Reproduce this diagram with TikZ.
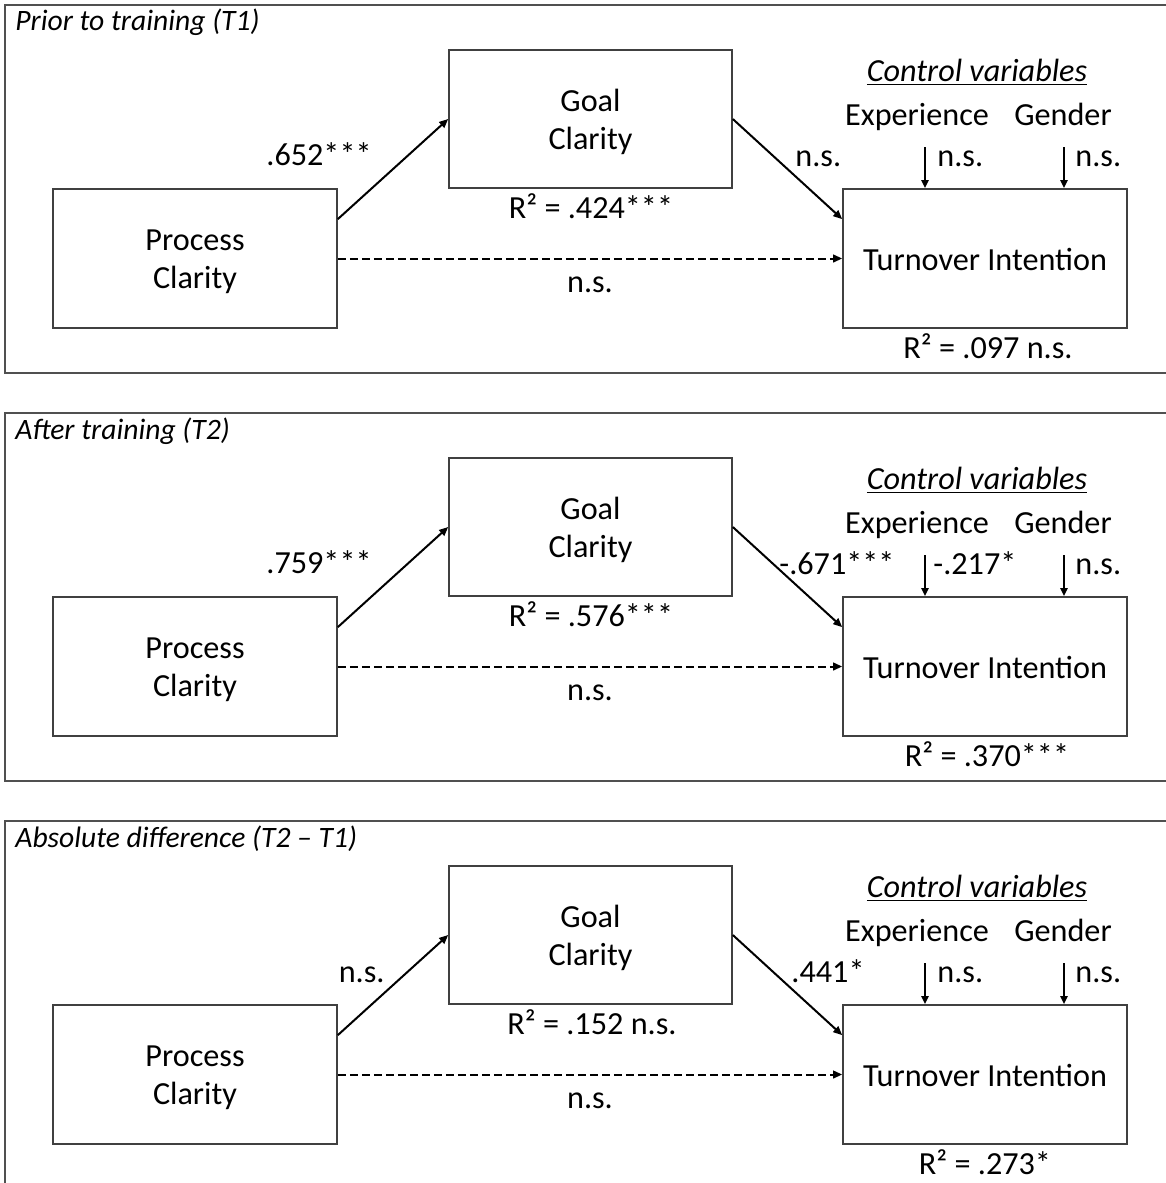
\documentclass[tikz,border=0pt]{standalone}
\usepackage{fontspec}
\setmainfont{Carlito}
\usetikzlibrary{arrows.meta,calc}
\definecolor{frm}{HTML}{505050}
\definecolor{bx}{HTML}{404040}
\newcommand\mainsize{\fontsize{16.1}{19}\selectfont}
\tikzset{
  frame/.style={draw=frm,line width=0.75pt},
  box/.style={draw=bx,line width=0.8pt,minimum width=142pt,minimum height=69.5pt,inner sep=0pt},
  gbox/.style={box,minimum width=141.5pt,minimum height=69pt},
  boxtxt/.style={inner sep=0pt,align=center,font=\mainsize},
  lbl/.style={inner sep=0pt,font=\mainsize},
  ttl/.style={inner sep=0pt,anchor=base west,font=\fontsize{14.8}{18}\selectfont\itshape},
  arr/.style={line width=1pt,-{Triangle[length=4.5pt,width=3.8pt]}},
  darr/.style={arr,dash pattern=on 4pt off 2pt},
  carr/.style={line width=1pt,-{Triangle[length=4pt,width=3.5pt]}}
}
\begin{document}
\begin{tikzpicture}[x=0.5pt,y=-0.5pt]
\useasboundingbox (0,0) rectangle (1166,1183);
% ---------- Panel 1 ----------
\draw[frame] (1166,5) -- (5,5) -- (5,373) -- (1166,373);
\node[ttl] (t1) at (15,31) {Prior to training (T1)};
\node[box] (pc1) at (195,258.5) {};
\node[gbox] (gc1) at (590.5,119) {};
\node[box] (ti1) at (985,258.5) {};
\node[boxtxt] (pc1t) at ([yshift=-1.6pt]pc1.center) {Process\\Clarity};
\node[boxtxt] (gc1t) at ([yshift=-1.6pt]gc1.center) {Goal\\Clarity};
\node[boxtxt] (ti1t) at ([yshift=-0.7pt]ti1.center) {Turnover Intention};
\draw[arr] ($(pc1.north east)!0.22!(pc1.south east)$) -- (gc1.west);
\draw[arr] (gc1.east) -- ($(ti1.north west)!0.22!(ti1.south west)$);
\draw[darr] (pc1.east) -- (ti1.west);
\node[lbl,anchor=base east] (a1) at (372,165) {.652***};
\node[lbl,anchor=base] (r1) at (591,218) {R² = .424***};
\node[lbl,anchor=base] (d1) at (590,292) {n.s.};
\node[lbl,anchor=base west] (b1) at (795,166) {n.s.};
\node[lbl,anchor=base] (cv1) at (977,81) {\underline{\itshape Control variables}};
\node[lbl,anchor=base] (ex1) at (917,125) {Experience};
\node[lbl,anchor=base] (gd1) at (1063,125) {Gender};
\coordinate (ce1) at (925,147);
\coordinate (cg1) at (1064,147);
\draw[carr] (ce1) -- (ce1 |- ti1.north);
\draw[carr] (cg1) -- (cg1 |- ti1.north);
\node[lbl,anchor=base west] (e1) at (937,166) {n.s.};
\node[lbl,anchor=base west] (g1) at (1075,166) {n.s.};
\node[lbl,anchor=base] (rt1) at (988,358) {R² = .097 n.s.};
% ---------- Panel 2 ----------
\draw[frame] (1166,413) -- (5,413) -- (5,781) -- (1166,781);
\node[ttl] (t2) at (15,439) {After training (T2)};
\node[box] (pc2) at (195,666.5) {};
\node[gbox] (gc2) at (590.5,527) {};
\node[box] (ti2) at (985,666.5) {};
\node[boxtxt] (pc2t) at ([yshift=-1.6pt]pc2.center) {Process\\Clarity};
\node[boxtxt] (gc2t) at ([yshift=-1.6pt]gc2.center) {Goal\\Clarity};
\node[boxtxt] (ti2t) at ([yshift=-0.7pt]ti2.center) {Turnover Intention};
\draw[arr] ($(pc2.north east)!0.22!(pc2.south east)$) -- (gc2.west);
\draw[arr] (gc2.east) -- ($(ti2.north west)!0.22!(ti2.south west)$);
\draw[darr] (pc2.east) -- (ti2.west);
\node[lbl,anchor=base east] (a2) at (372,573) {.759***};
\node[lbl,anchor=base] (r2) at (591,626) {R² = .576***};
\node[lbl,anchor=base] (d2) at (590,700) {n.s.};
\node[lbl,anchor=base west] (b2) at (779,574) {-.671***};
\node[lbl,anchor=base] (cv2) at (977,489) {\underline{\itshape Control variables}};
\node[lbl,anchor=base] (ex2) at (917,533) {Experience};
\node[lbl,anchor=base] (gd2) at (1063,533) {Gender};
\coordinate (ce2) at (925,555);
\coordinate (cg2) at (1064,555);
\draw[carr] (ce2) -- (ce2 |- ti2.north);
\draw[carr] (cg2) -- (cg2 |- ti2.north);
\node[lbl,anchor=base west] (e2) at (933,574) {-.217*};
\node[lbl,anchor=base west] (g2) at (1075,574) {n.s.};
\node[lbl,anchor=base] (rt2) at (987,766) {R² = .370***};
% ---------- Panel 3 ----------
\draw[frame] (1166,821) -- (5,821) -- (5,1190);
\node[ttl] (t3) at (15,847) {Absolute difference (T2 – T1)};
\node[box] (pc3) at (195,1074.5) {};
\node[gbox] (gc3) at (590.5,935) {};
\node[box] (ti3) at (985,1074.5) {};
\node[boxtxt] (pc3t) at ([yshift=-1.6pt]pc3.center) {Process\\Clarity};
\node[boxtxt] (gc3t) at ([yshift=-1.6pt]gc3.center) {Goal\\Clarity};
\node[boxtxt] (ti3t) at ([yshift=-0.7pt]ti3.center) {Turnover Intention};
\draw[arr] ($(pc3.north east)!0.22!(pc3.south east)$) -- (gc3.west);
\draw[arr] (gc3.east) -- ($(ti3.north west)!0.22!(ti3.south west)$);
\draw[darr] (pc3.east) -- (ti3.west);
\node[lbl,anchor=base east] (a3) at (385,982) {n.s.};
\node[lbl,anchor=base] (r3) at (592,1034) {R² = .152 n.s.};
\node[lbl,anchor=base] (d3) at (590,1108) {n.s.};
\node[lbl,anchor=base west] (b3) at (791,982) {.441*};
\node[lbl,anchor=base] (cv3) at (977,897) {\underline{\itshape Control variables}};
\node[lbl,anchor=base] (ex3) at (917,941) {Experience};
\node[lbl,anchor=base] (gd3) at (1063,941) {Gender};
\coordinate (ce3) at (925,963);
\coordinate (cg3) at (1064,963);
\draw[carr] (ce3) -- (ce3 |- ti3.north);
\draw[carr] (cg3) -- (cg3 |- ti3.north);
\node[lbl,anchor=base west] (e3) at (937,982) {n.s.};
\node[lbl,anchor=base west] (g3) at (1075,982) {n.s.};
\node[lbl,anchor=base] (rt3) at (985,1174) {R² = .273*};
\end{tikzpicture}
\end{document}
